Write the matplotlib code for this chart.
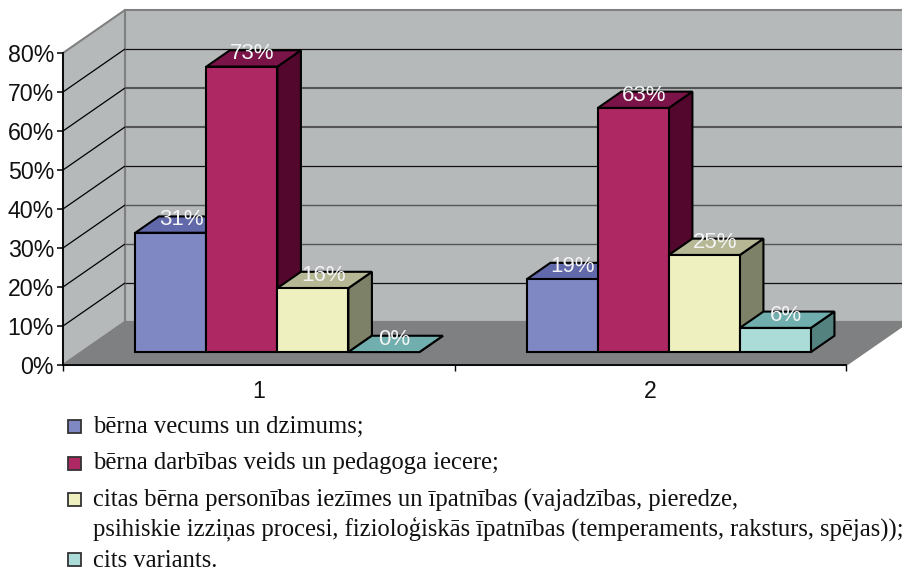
import matplotlib
matplotlib.use('Agg')
import matplotlib.pyplot as plt
from matplotlib.patches import Polygon, Rectangle

groups = ['1', '2']
# the printed labels are these rounded
share_age = [30.6, 18.7]
share_activity = [73.2, 62.6]
share_personal = [16.4, 24.9]
share_other = [0, 6.2]

legend_labels = [
    'bērna vecums un dzimums;',
    'bērna darbības veids un pedagoga iecere;',
    'citas bērna personības iezīmes un īpatnības (vajadzības, pieredze,\n'
    'psihiskie izziņas procesi, fizioloģiskās īpatnības (temperaments, raksturs, spējas));',
    'cits variants.',
]
y_ticks = [0, 10, 20, 30, 40, 50, 60, 70, 80]

# front, top, side
colors = [
    ('#7F88C2', '#6169AB', '#4A5088'),
    ('#AE2863', '#7A1348', '#54072D'),
    ('#EEF1BF', '#B5B795', '#7D8167'),
    ('#ABDCD8', '#70AFAE', '#54827F'),
]
WALL = '#B6B9BA'
FLOOR = '#7F8082'
EDGE_GRAY = '#808080'

W, H = 902, 569
DX = 62 / 391.5   # x shift of the full depth, in category units
DY = 43 / 3.9     # y shift of the full depth, in percent
BAR_W = 0.1814
D0, D1 = 0.30, 0.68


def pr(x, y, d):
    return (x + d * DX, y + d * DY)


def poly(ax, pts, face, edge='black', lw=1.5, z=2):
    ax.add_patch(Polygon(pts, closed=True, facecolor=face, edgecolor=edge, linewidth=lw,
                         joinstyle='miter', zorder=z, clip_on=False))


def line(ax, a, b, color='black', lw=1.0, z=1.5):
    ax.plot([a[0], b[0]], [a[1], b[1]], color=color, lw=lw, zorder=z, clip_on=False,
            solid_capstyle='butt')


def bar(ax, x, v, cols, z):
    front, top, side = cols
    poly(ax, [pr(x + BAR_W, 0, D0), pr(x + BAR_W, 0, D1), pr(x + BAR_W, v, D1), pr(x + BAR_W, v, D0)], side, z=z)
    poly(ax, [pr(x, v, D0), pr(x, v, D1), pr(x + BAR_W, v, D1), pr(x + BAR_W, v, D0)], top, z=z)
    if v > 0:
        poly(ax, [pr(x, 0, D0), pr(x + BAR_W, 0, D0), pr(x + BAR_W, v, D0), pr(x, v, D0)], front, z=z)
    lx, ly = pr(x + BAR_W / 2, v, 0.47)
    ax.text(lx, ly, f'{round(v)}%', color='#F4F4F4', fontsize=16, ha='center', va='baseline', zorder=20)


plt.rcParams['font.family'] = 'Liberation Sans'
fig = plt.figure(figsize=(W / 100, H / 100), dpi=100)
ax = fig.add_axes([63 / W, 1 - 365 / H, (846 - 63) / W, (365 - 53) / H])
ax.set_xlim(0, 2)
ax.set_ylim(0, 80)
ax.patch.set_visible(False)

# walls and floor
poly(ax, [pr(0, 0, 1), pr(2, 0, 1), pr(2, 80, 1), pr(0, 80, 1)], WALL, edge=EDGE_GRAY, lw=1.5, z=0)
poly(ax, [pr(0, 0, 0), pr(0, 0, 1), pr(0, 80, 1), pr(0, 80, 0)], WALL, edge=EDGE_GRAY, lw=1.5, z=0)
poly(ax, [pr(0, 0, 0), pr(2, 0, 0), pr(2, 0, 1), pr(0, 0, 1)], FLOOR, edge=EDGE_GRAY, lw=1.5, z=0.5)

for t in y_ticks[1:-1]:
    line(ax, pr(0, t, 0), pr(0, t, 1), lw=0.9)
    if t in (60, 50):
        line(ax, pr(0, t, 1), pr(2, t, 1), color='#555555', lw=1.5)
    elif t in (30, 20):
        line(ax, pr(0, t, 1), pr(2, t, 1), color='#555555', lw=1.0)
    else:
        line(ax, pr(0, t, 1), pr(2, t, 1), color='#111111', lw=0.9)

series = [share_age, share_activity, share_personal, share_other]
z = 3
for g in range(len(groups)):
    start = g + (1 - 4 * BAR_W) / 2
    for s, vals in enumerate(series):
        bar(ax, start + s * BAR_W, vals[g], colors[s], z)
        z += 1

ax.spines['top'].set_visible(False)
ax.spines['right'].set_visible(False)
ax.spines['left'].set_linewidth(1.3)
ax.spines['bottom'].set_linewidth(1.3)
ax.spines['left'].set_zorder(30)
ax.spines['bottom'].set_zorder(30)

ax.set_yticks(y_ticks)
ax.set_yticklabels([f'{t}%' for t in y_ticks], fontsize=16.7, color='#111111')
ax.set_xticks([0, 1, 2])
ax.set_xticklabels([])
ax.set_xticks([0.5, 1.5], minor=True)
ax.set_xticklabels(groups, minor=True, fontsize=16.7, color='#111111')
ax.tick_params(axis='y', length=4.5, width=1.1, pad=2)
ax.tick_params(axis='x', which='major', length=4.5, width=1.0)
ax.tick_params(axis='x', which='minor', length=0, pad=11)

# legend, hand placed like the original caption
leg_y = [426, 463, 499, 559]
text_y = [433, 469, 507, 567]
LEG_FS = 17.72
for i, lab in enumerate(legend_labels):
    fig.patches.append(Rectangle((68 / W, 1 - (leg_y[i] + 6.5) / H), 13 / W, 13 / H, transform=fig.transFigure,
                                 facecolor=colors[i][0], edgecolor='#333333', linewidth=1.3, figure=fig))
    if '\n' in lab:
        a, b = lab.split('\n')
        fig.text(93 / W, 1 - text_y[i] / H, a, family='Liberation Serif', fontsize=LEG_FS, color='#111111', va='baseline')
        fig.text(93 / W, 1 - 535 / H, b, family='Liberation Serif', fontsize=LEG_FS, color='#111111', va='baseline')
    else:
        fig.text(93 / W, 1 - text_y[i] / H, lab, family='Liberation Serif', fontsize=LEG_FS, color='#111111', va='baseline')

fig.savefig('out.png', dpi=100)
